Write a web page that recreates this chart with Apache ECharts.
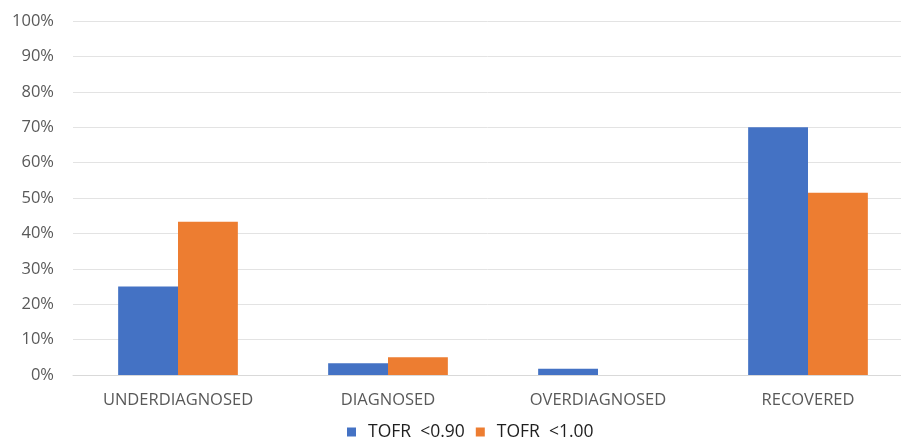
<!DOCTYPE html>
<html>
<head>
<meta charset="utf-8">
<script src="https://cdn.jsdelivr.net/npm/echarts@6/dist/echarts.min.js"></script>
<style>
  html, body { margin: 0; padding: 0; background: #fff; overflow: hidden; }
  #chart { width: 901px; height: 438px; }
</style>
</head>
<body>
<div id="chart"></div>
<script>
// Diagnostic categories along the x axis
const categories = ['UNDERDIAGNOSED', 'DIAGNOSED', 'OVERDIAGNOSED', 'RECOVERED'];
// Share of patients (%) for each TOFR threshold
const tofr090 = [25, 3.3, 1.8, 70];
const tofr100 = [43.3, 5.0, 0, 51.5];
const seriesNames = ['TOFR  <0.90', 'TOFR  <1.00'];

const chart = echarts.init(document.getElementById('chart'), null, { renderer: 'canvas' });
const font = '"Open Sans", "Liberation Sans", sans-serif';

chart.setOption({
  animation: false,
  backgroundColor: '#ffffff',
  color: ['#4472C4', '#ED7D31'],
  // the plot area runs slightly past the right edge of the canvas
  grid: { left: 73, width: 840, top: 21, bottom: 63, containLabel: false, outerBoundsMode: 'none' },
  legend: {
    bottom: -8,
    left: 342,
    itemWidth: 9,
    itemHeight: 9,
    itemGap: 11,
    icon: 'rect',
    textStyle: { color: '#1f1f1f', fontSize: 17.5, fontFamily: font, padding: [0, 0, 0, 7] },
    data: seriesNames
  },
  xAxis: {
    type: 'category',
    data: categories,
    axisLine: { lineStyle: { color: '#d9d9d9', width: 1 } },
    axisTick: { show: false },
    axisLabel: { color: '#595959', fontSize: 16.5, fontFamily: font, margin: 17 }
  },
  yAxis: {
    type: 'value',
    min: 0,
    max: 100,
    interval: 10,
    axisLine: { show: false },
    axisTick: { show: false },
    axisLabel: { color: '#595959', fontSize: 16.5, fontFamily: font, margin: 19, formatter: '{value}%' },
    splitLine: { lineStyle: { color: '#e3e3e3', width: 1 } }
  },
  series: [
    { name: seriesNames[0], type: 'bar', data: tofr090, barGap: '0%', barCategoryGap: '43%' },
    { name: seriesNames[1], type: 'bar', data: tofr100, barGap: '0%', barCategoryGap: '43%' }
  ]
});
</script>
</body>
</html>
